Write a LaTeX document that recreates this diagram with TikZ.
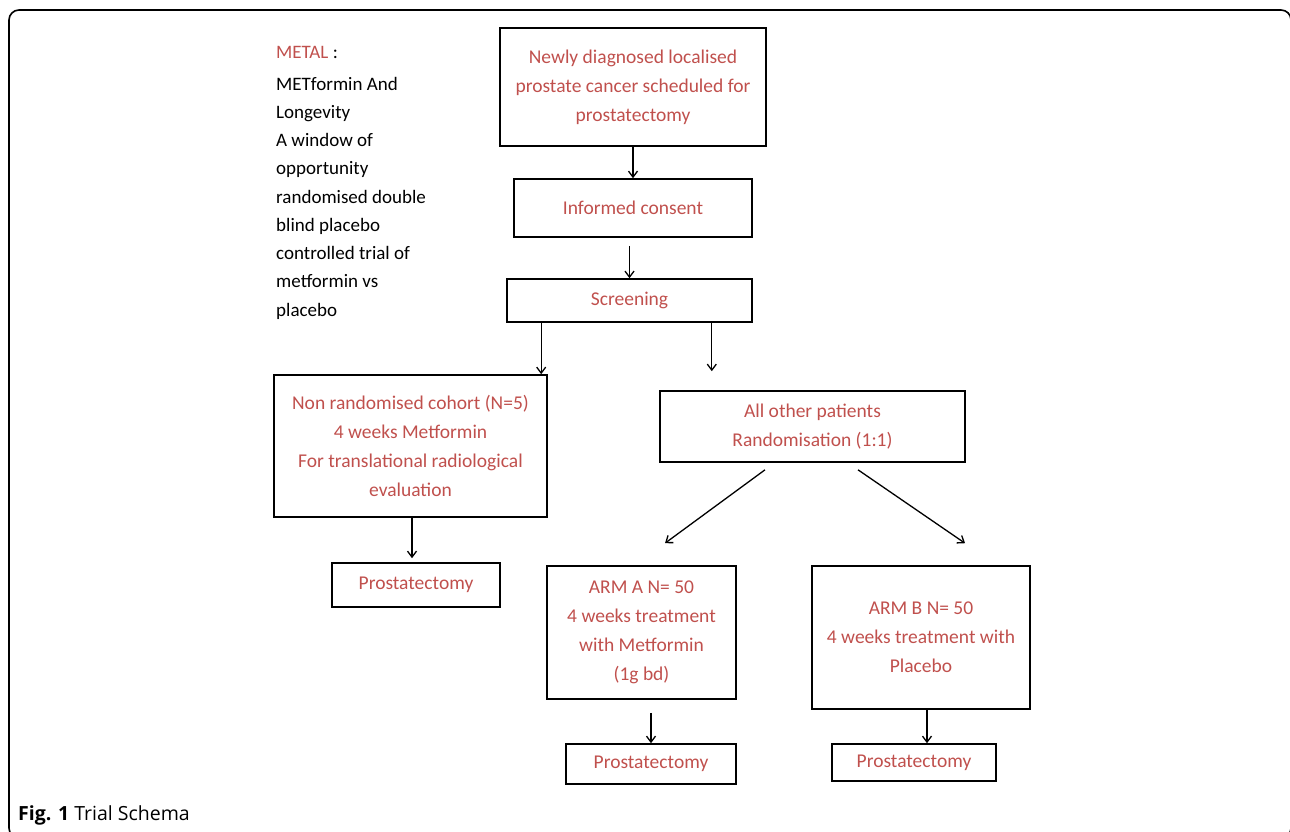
\documentclass[tikz,border=0pt]{standalone}
\usepackage{fontspec}
\setmainfont{Carlito}
\newfontfamily\capfont{Open Sans}
\usetikzlibrary{arrows.meta,positioning,calc}
\usepackage{xcolor}
\definecolor{brick}{HTML}{C0504D}
\tikzset{
  stage/.style={draw=black,line width=1.6pt,align=center,inner sep=0pt,text=brick,font=\fontsize{19.5}{29}\selectfont},
  note/.style={align=left,inner sep=0pt,text=black,font=\fontsize{19}{28.25}\selectfont},
  arr/.style={-{Straight Barb[length=6pt,width=9pt]},line width=1.3pt}
}

\begin{document}
\begin{tikzpicture}[x=1pt,y=-1pt]
    \clip (0,0) rectangle (1290,831);
    \draw[line width=1.6pt,rounded corners=10pt] (9,10) rectangle (1291,838);
    \node[note,anchor=north west] (title) at (276,46) {\textcolor{brick}{METAL} :\\[3.5pt]METformin And\\Longevity\\A window of\\opportunity\\randomised double\\blind placebo\\controlled trial of\\metformin vs\\placebo};
    \node[stage,minimum width=266pt,minimum height=118pt] (diag) at (633,87) {Newly diagnosed localised\\prostate cancer scheduled for\\prostatectomy};
    \node[stage,minimum width=238pt,minimum height=58pt] (consent) at (633,208) {Informed consent};
    \node[stage,minimum width=245pt,minimum height=43pt] (screen) at (629.5,300.5) {Screening};
    \node[stage,minimum width=273pt,minimum height=142pt] (cohort) at (410.5,446) {Non randomised cohort (N=5)\\4 weeks Metformin\\For translational radiological\\evaluation};
    \node[stage,minimum width=168pt,minimum height=44pt] (prostC) at (416,585) {Prostatectomy};
    \node[stage,minimum width=305pt,minimum height=71pt] (rand) at (812.5,426.5) {All other patients\\Randomisation (1:1)};
    \node[stage,minimum width=189pt,minimum height=133pt] (armA) at (641.5,632.5) {ARM A N= 50\\4 weeks treatment\\with Metformin\\(1g bd)};
    \node[stage,minimum width=218pt,minimum height=143pt] (armB) at (921,637.5) {ARM B N= 50\\4 weeks treatment with\\Placebo};
    \node[stage,minimum width=170pt,minimum height=40pt] (prostA) at (651,764) {Prostatectomy};
    \node[stage,minimum width=164pt,minimum height=37pt] (prostB) at (914,762.5) {Prostatectomy};
    \node[anchor=base west,inner sep=0pt,font=\capfont\fontsize{19.5}{22}\selectfont] (cap) at (18,820) {\textbf{Fig. 1} Trial Schema};
    % main line
    \draw[arr] (diag) -- (consent);
    \draw[arr] ($(consent.south -| screen.north)+(0,8)$) -- (screen.north);
    \draw[arr] ([xshift=35pt]screen.south west) -- ([xshift=35pt]screen.south west |- cohort.north);
    \draw[arr] ([xshift=-41pt]screen.south east) -- ($([xshift=-41pt]screen.south east |- rand.north)+(0,-19)$);
    \draw[arr] ([xshift=1.5pt]cohort.south) -- ($([xshift=1.5pt]cohort.south |- prostC.north)+(0,-4)$);
    % randomisation arms
    \draw[arr] ($(rand.south)+(-47.5,7)$) -- ($(armA.north)+(23.5,-22)$);
    \draw[arr] ($(rand.south)+(45.5,7)$) -- ($(armB.north)+(44,-22)$);
    \draw[arr] ($(armA.south -| prostA.north)+(0,13)$) -- (prostA.north);
    \draw[arr] ([xshift=13pt]prostB.north |- armB.south) -- ([xshift=13pt]prostB.north);
  \end{tikzpicture}
\end{document}
